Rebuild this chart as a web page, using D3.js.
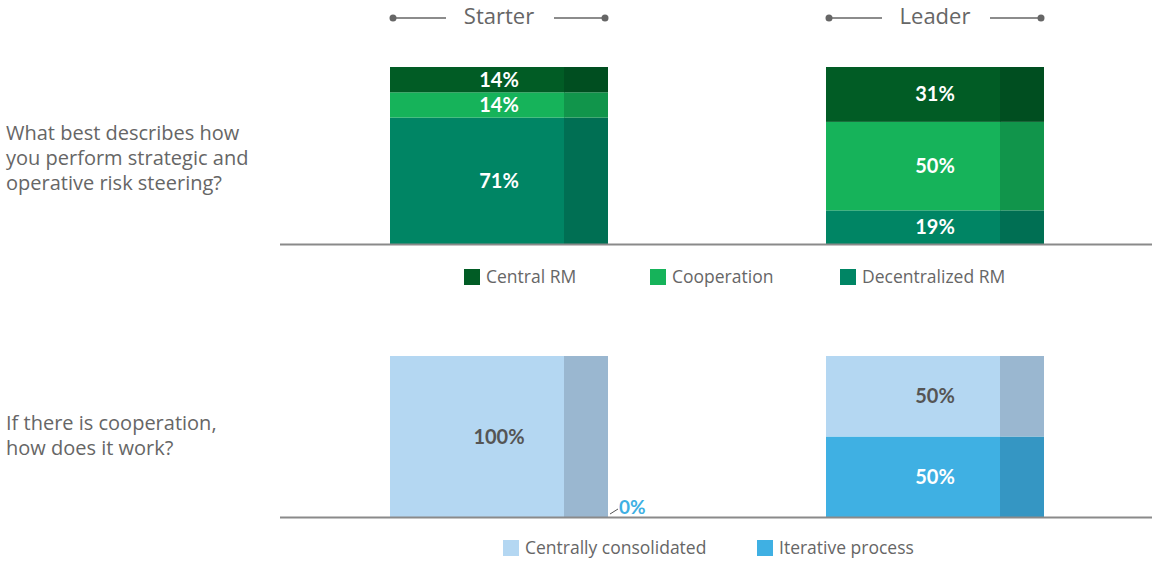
<!DOCTYPE html>
<html><head><meta charset="utf-8">
<script src="https://cdn.jsdelivr.net/npm/d3@7"></script>
<style>body{margin:0;background:#fff}svg{display:block}</style>
</head><body>
<svg id="c" width="1152" height="562"></svg>
<script>
const groups = ["Starter", "Leader"];
const q1 = ["What best describes how", "you perform strategic and", "operative risk steering?"];
const q2 = ["If there is cooperation,", "how does it work?"];
const seriesTop = ["Central RM", "Cooperation", "Decentralized RM"];
const starterTop = [14.3, 14.3, 71.4];
const leaderTop = [31, 50, 19];
const seriesBot = ["Centrally consolidated", "Iterative process"];
const starterBot = [100, 0];
const leaderBot = [50, 50];

const colTop = ["#015c25", "#16b35a", "#008564"];
const sideTop = ["#004e20", "#11954b", "#006f53"];
const colBot = ["#b4d7f2", "#3fb0e3"];
const sideBot = ["#9ab7d0", "#3596c3"];
const labColTop = ["#fff", "#fff", "#fff"];
const labColBot = ["#555", "#fff"];

const svg = d3.select("#c");
const FONT = "'Open Sans', 'Noto Sans', sans-serif";
const BFONT = "Lato, 'Open Sans', sans-serif";
const grey = "#666";

const x = d3.scaleBand().domain(groups).range([281, 1153]).paddingInner(0.5).paddingOuter(0.25);
const bw = x.bandwidth();
const sideW = Math.round(bw * 0.2);

// headers
groups.forEach(g => {
  const cx = x(g) + bw / 2;
  const hg = svg.append("g");
  hg.append("text").attr("x", cx).attr("y", 24).attr("text-anchor", "middle")
    .attr("font-family", FONT).attr("font-size", 22).attr("fill", grey).text(g);
  const x0 = x(g) + 3, x1 = x(g) + bw - 3;
  [[x0, cx - 53], [cx + 55, x1]].forEach(([a, b]) => {
    hg.append("line").attr("x1", a).attr("x2", b).attr("y1", 18).attr("y2", 18)
      .attr("stroke", grey).attr("stroke-width", 1.5);
  });
  [x0, x1].forEach(p => hg.append("circle").attr("cx", p).attr("cy", 18).attr("r", 3.5).attr("fill", grey));
});

function drawPanel(vals, cols, sides, labCols, y0, y1, series, legendY, legendXs, qLines, qY) {
  const y = d3.scaleLinear().domain([0, 100]).range([y0, y1]);
  groups.forEach((g, gi) => {
    const v = vals[gi];
    let cum = 0;
    // first series on top: stack from bottom in reverse order
    for (let i = v.length - 1; i >= 0; i--) {
      const d = v[i];
      const top = y(cum + d), bot = y(cum);
      cum += d;
      if (d <= 0) continue;
      svg.append("rect").attr("x", x(g)).attr("y", top).attr("width", bw - sideW + 0.5).attr("height", bot - top).attr("fill", cols[i]);
      svg.append("rect").attr("x", x(g) + bw - sideW).attr("y", top).attr("width", sideW).attr("height", bot - top).attr("fill", sides[i]);
      svg.append("text").attr("x", x(g) + bw / 2).attr("y", (top + bot) / 2 + 7)
        .attr("text-anchor", "middle").attr("font-family", BFONT).attr("font-weight", "bold")
        .attr("font-size", 20).attr("fill", labCols[i]).text(Math.round(d) + "%");
    }
    v.forEach((d, i) => {
      if (d > 0) return;
      const xr = x(g) + bw;
      svg.append("line").attr("x1", xr + 2).attr("y1", y0 - 3).attr("x2", xr + 10).attr("y2", y0 - 8)
        .attr("stroke", "#555").attr("stroke-width", 1);
      svg.append("text").attr("x", xr + 11).attr("y", y0 - 3).attr("font-family", BFONT).attr("font-weight", "bold")
        .attr("font-size", 19).attr("fill", cols[i]).text("0%");
    });
  });
  svg.append("line").attr("x1", 280).attr("x2", 1152).attr("y1", y0 + 0.5).attr("y2", y0 + 0.5)
    .attr("stroke", "#8a8a8a").attr("stroke-width", 2);
  series.forEach((s, i) => {
    svg.append("rect").attr("x", legendXs[i]).attr("y", legendY - 8).attr("width", 16).attr("height", 16).attr("fill", cols[i]);
    svg.append("text").attr("x", legendXs[i] + 22).attr("y", legendY + 6).attr("font-family", FONT)
      .attr("font-size", 17.5).attr("fill", grey).text(s);
  });
  const t = svg.append("text").attr("font-family", FONT).attr("font-size", 20).attr("fill", grey);
  qLines.forEach((l, i) => t.append("tspan").attr("x", 6).attr("y", qY + i * 25).text(l));
}

drawPanel([starterTop, leaderTop], colTop, sideTop, labColTop, 244, 67, seriesTop, 277, [464, 650, 840], q1, 140);
drawPanel([starterBot, leaderBot], colBot, sideBot, labColBot, 517, 356, seriesBot, 548, [503, 757], q2, 430);
</script>
</body></html>
